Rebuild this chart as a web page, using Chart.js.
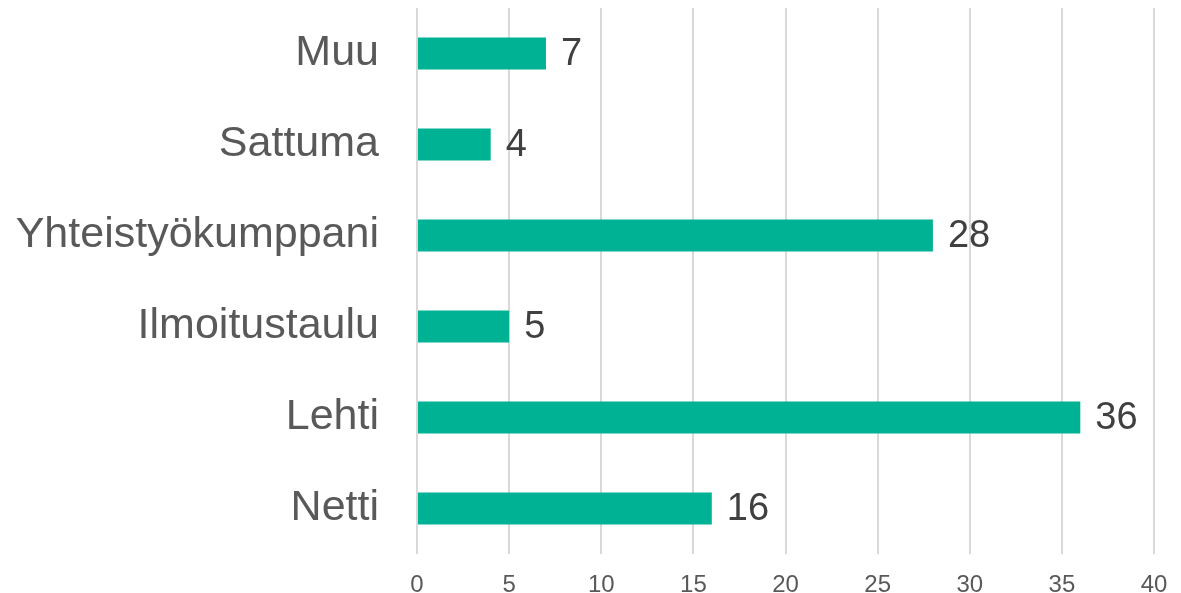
<!DOCTYPE html>
<html>
<head>
<meta charset="utf-8">
<script src="https://cdn.jsdelivr.net/npm/chart.js@4/dist/chart.umd.min.js"></script>
<style>
  html, body { margin: 0; padding: 0; background: #fff; }
  #wrap { width: 1181px; height: 593px; }
</style>
</head>
<body>
<div id="wrap"><canvas id="graafi"></canvas></div>
<script>
const kategoriat = ['Muu', 'Sattuma', 'Yhteistyökumppani', 'Ilmoitustaulu', 'Lehti', 'Netti'];
const arvot = [7, 4, 28, 5, 36, 16];
const akseliMin = 0, akseliMax = 40, akseliVali = 5;

const fontti = '"Liberation Sans", Arial, sans-serif';

// arvot palkkien perään
const arvoTekstit = {
    id: 'arvoTekstit',
    afterDatasetsDraw(chart) {
        const ctx = chart.ctx;
        const meta = chart.getDatasetMeta(0);
        ctx.save();
        ctx.font = '38px ' + fontti;
        ctx.fillStyle = '#404040';
        ctx.textAlign = 'left';
        ctx.textBaseline = 'middle';
        meta.data.forEach((bar, i) => {
            ctx.fillText(String(arvot[i]), bar.x + 15, bar.y + 1);
        });
        ctx.restore();
    }
};

new Chart(document.getElementById('graafi'), {
    type: 'bar',
    data: {
        labels: kategoriat,
        datasets: [{
            data: arvot,
            backgroundColor: '#00b294',
            barPercentage: 0.352,
            categoryPercentage: 1
        }]
    },
    options: {
        indexAxis: 'y',
        responsive: true, maintainAspectRatio: false,
        animation: false,
        layout: { padding: { top: 8, right: 27, left: 0, bottom: 0 } },
        plugins: { legend: { display: false }, tooltip: { enabled: false } },
        scales: {
            x: {
                min: akseliMin, max: akseliMax,
                ticks: {
                    stepSize: akseliVali,
                    color: '#595959',
                    font: { family: fontti, size: 24 },
                    padding: 17
                },
                grid: { color: '#d9d9d9', lineWidth: 2, drawTicks: false },
                border: { display: false },
                afterFit(scale) { scale.height = 39; scale.paddingLeft = 0; scale.paddingRight = 0; }
            },
            y: {
                ticks: {
                    color: '#595959',
                    font: { family: fontti, size: 43 },
                    padding: 38
                },
                grid: { display: false, drawTicks: false },
                border: { display: false },
                afterFit(scale) { scale.width = 417; scale.paddingTop = 0; scale.paddingBottom = 0; }
            }
        }
    },
    plugins: [arvoTekstit]
});
</script>
</body>
</html>
